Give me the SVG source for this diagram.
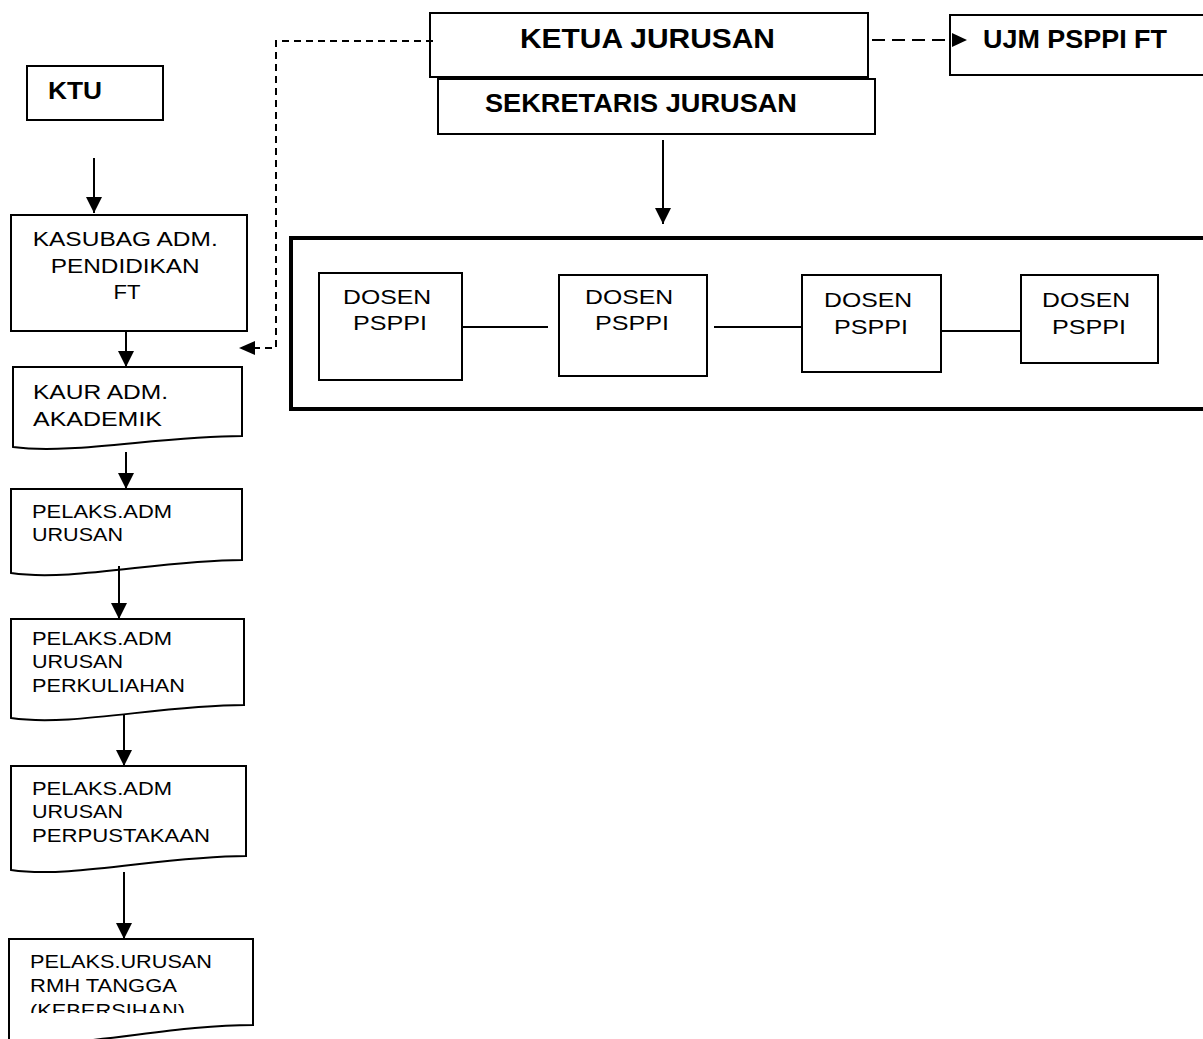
<svg xmlns="http://www.w3.org/2000/svg" width="1203" height="1039" viewBox="0 0 1203 1039">
<style>
.box{fill:#fff;stroke:#000;stroke-width:2}
.big{fill:none;stroke:#000;stroke-width:4}
.t{font-family:"Liberation Sans",Arial,sans-serif;fill:#000}
.b{font-weight:bold}
.ln{stroke:#000;stroke-width:2;fill:none}
.dash1{stroke:#000;stroke-width:2;fill:none;stroke-dasharray:7 5}
.dash2{stroke:#000;stroke-width:2;fill:none;stroke-dasharray:13 7}
</style>
<defs>
<marker id="ah" markerUnits="userSpaceOnUse" markerWidth="16" markerHeight="16" viewBox="0 0 16 16" refX="16" refY="8" orient="auto">
<path d="M0,0 L16,8 L0,16 Z" fill="#000"/>
</marker>
<clipPath id="clipLast"><rect x="0" y="939" width="300" height="74"/></clipPath>
</defs>

<g id="ktu">
<rect class="box" x="27" y="66" width="136" height="54"/>
<text class="t b" x="48" y="99" font-size="24" textLength="54" lengthAdjust="spacingAndGlyphs">KTU</text>
</g>

<g id="kasubag">
<rect class="box" x="11" y="215" width="236" height="116"/>
<text class="t" font-size="20" text-anchor="middle">
<tspan x="128" y="246" textLength="185" lengthAdjust="spacingAndGlyphs">KASUBAG ADM.</tspan>
<tspan x="128" y="273" textLength="149" lengthAdjust="spacingAndGlyphs">PENDIDIKAN</tspan>
<tspan x="127" y="299" textLength="27" lengthAdjust="spacingAndGlyphs">FT</tspan>
</text>
</g>

<g id="kaur">
<path class="box" d="M13,367 H242 V436 C160,436 72,455 13,447 Z"/>
<text class="t" font-size="21">
<tspan x="33" y="399" textLength="135" lengthAdjust="spacingAndGlyphs">KAUR ADM.</tspan>
<tspan x="33" y="426" textLength="129" lengthAdjust="spacingAndGlyphs">AKADEMIK</tspan>
</text>
</g>

<g id="pelaks-urusan">
<path class="box" d="M11,489 H242 V560 C160,560 72,582 11,573 Z"/>
<text class="t" font-size="19">
<tspan x="32" y="518" textLength="140" lengthAdjust="spacingAndGlyphs">PELAKS.ADM</tspan>
<tspan x="32" y="541" textLength="91" lengthAdjust="spacingAndGlyphs">URUSAN</tspan>
</text>
</g>

<g id="pelaks-perkuliahan">
<path class="box" d="M11,619 H244 V705 C160,705 72,727 11,718 Z"/>
<text class="t" font-size="19">
<tspan x="32" y="645" textLength="140" lengthAdjust="spacingAndGlyphs">PELAKS.ADM</tspan>
<tspan x="32" y="668" textLength="91" lengthAdjust="spacingAndGlyphs">URUSAN</tspan>
<tspan x="32" y="692" textLength="153" lengthAdjust="spacingAndGlyphs">PERKULIAHAN</tspan>
</text>
</g>

<g id="pelaks-perpustakaan">
<path class="box" d="M11,766 H246 V856 C162,856 72,879 11,870 Z"/>
<text class="t" font-size="19">
<tspan x="32" y="795" textLength="140" lengthAdjust="spacingAndGlyphs">PELAKS.ADM</tspan>
<tspan x="32" y="818" textLength="91" lengthAdjust="spacingAndGlyphs">URUSAN</tspan>
<tspan x="32" y="842" textLength="178" lengthAdjust="spacingAndGlyphs">PERPUSTAKAAN</tspan>
</text>
</g>

<g id="pelaks-rumah-tangga">
<path class="box" d="M9,939 H253 V1025 C168,1025 74,1050 9,1042 Z"/>
<text class="t" font-size="19">
<tspan x="30" y="968" textLength="182" lengthAdjust="spacingAndGlyphs">PELAKS.URUSAN</tspan>
<tspan x="30" y="992" textLength="147" lengthAdjust="spacingAndGlyphs">RMH TANGGA</tspan>
</text>
<text class="t" font-size="19" x="30" y="1017" textLength="155" lengthAdjust="spacingAndGlyphs" clip-path="url(#clipLast)">(KEBERSIHAN)</text>
</g>

<g id="ketua-jurusan">
<rect class="box" x="430" y="13" width="438" height="64"/>
<text class="t b" x="520" y="48" font-size="28" textLength="255" lengthAdjust="spacingAndGlyphs">KETUA JURUSAN</text>
</g>

<g id="sekretaris-jurusan">
<rect class="box" x="438" y="79" width="437" height="55"/>
<text class="t b" x="485" y="112" font-size="26" textLength="312" lengthAdjust="spacingAndGlyphs">SEKRETARIS JURUSAN</text>
</g>

<g id="ujm-psppi-ft">
<rect class="box" x="950" y="15" width="260" height="60"/>
<text class="t b" x="983" y="48" font-size="25" textLength="184" lengthAdjust="spacingAndGlyphs">UJM PSPPI FT</text>
</g>

<g id="dosen-group">
<rect class="big" x="291" y="238" width="920" height="171"/>
</g>

<g id="dosen-1">
<rect class="box" x="319" y="273" width="143" height="107"/>
<text class="t" font-size="21" text-anchor="middle">
<tspan x="390" y="304" textLength="88" lengthAdjust="spacingAndGlyphs">DOSEN</tspan>
<tspan x="390" y="330" textLength="74" lengthAdjust="spacingAndGlyphs">PSPPI</tspan>
</text>
</g>

<g id="dosen-2">
<rect class="box" x="559" y="275" width="148" height="101"/>
<text class="t" font-size="21" text-anchor="middle">
<tspan x="632" y="304" textLength="88" lengthAdjust="spacingAndGlyphs">DOSEN</tspan>
<tspan x="632" y="330" textLength="74" lengthAdjust="spacingAndGlyphs">PSPPI</tspan>
</text>
</g>

<g id="dosen-3">
<rect class="box" x="802" y="275" width="139" height="97"/>
<text class="t" font-size="21" text-anchor="middle">
<tspan x="871" y="307" textLength="88" lengthAdjust="spacingAndGlyphs">DOSEN</tspan>
<tspan x="871" y="334" textLength="74" lengthAdjust="spacingAndGlyphs">PSPPI</tspan>
</text>
</g>

<g id="dosen-4">
<rect class="box" x="1021" y="275" width="137" height="88"/>
<text class="t" font-size="21" text-anchor="middle">
<tspan x="1089" y="307" textLength="88" lengthAdjust="spacingAndGlyphs">DOSEN</tspan>
<tspan x="1089" y="334" textLength="74" lengthAdjust="spacingAndGlyphs">PSPPI</tspan>
</text>
</g>

<g id="connectors">
<line class="ln" x1="94" y1="158" x2="94" y2="213" marker-end="url(#ah)"/>
<line class="ln" x1="126" y1="331" x2="126" y2="367" marker-end="url(#ah)"/>
<line class="ln" x1="126" y1="452" x2="126" y2="489" marker-end="url(#ah)"/>
<line class="ln" x1="119" y1="566" x2="119" y2="619" marker-end="url(#ah)"/>
<line class="ln" x1="124" y1="715" x2="124" y2="766" marker-end="url(#ah)"/>
<line class="ln" x1="124" y1="872" x2="124" y2="939" marker-end="url(#ah)"/>
<line class="ln" x1="663" y1="140" x2="663" y2="224" marker-end="url(#ah)"/>
<polyline class="dash1" points="433,41 276,41 276,348 252,348"/>
<path d="M239,348 L255,341 L255,355 Z" fill="#000"/>
<line class="dash2" x1="872" y1="40" x2="952" y2="40"/>
<path d="M967,40 L952,33 L952,47 Z" fill="#000"/>
<line class="ln" x1="462" y1="327" x2="548" y2="327"/>
<line class="ln" x1="714" y1="327" x2="802" y2="327"/>
<line class="ln" x1="941" y1="331" x2="1021" y2="331"/>
</g>
</svg>
